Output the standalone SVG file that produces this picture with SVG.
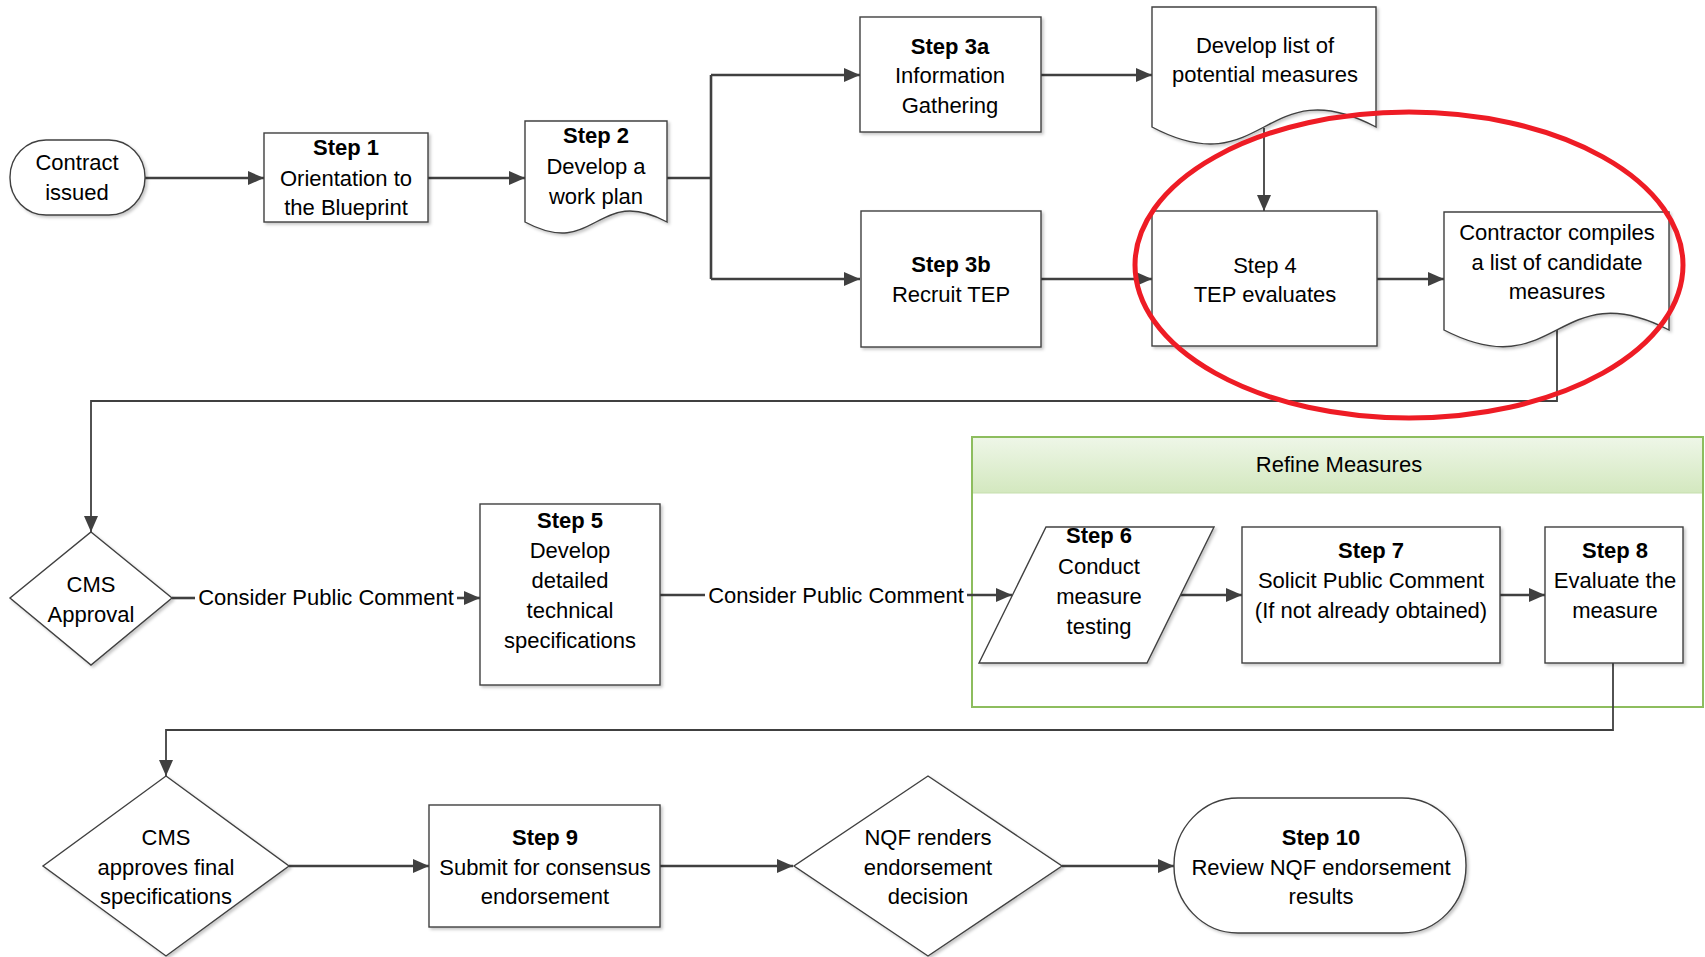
<svg xmlns="http://www.w3.org/2000/svg" width="1705" height="957" viewBox="0 0 1705 957">
<style>
text{font-family:"Liberation Sans",Arial,sans-serif;font-size:22px;fill:#000;text-anchor:middle}
.b{font-weight:bold}
.shape{fill:#fff;stroke:#404040;stroke-width:1.4}
.c{fill:none;stroke:#404040;stroke-width:2.6}
.t{fill:none;stroke:#404040;stroke-width:1.8}
</style>
<defs>
<marker id="arr" viewBox="0 0 16 14" refX="16" refY="7" markerWidth="16" markerHeight="14" markerUnits="userSpaceOnUse" orient="auto"><path d="M0,0 L16,7 L0,14 z" fill="#404040"/></marker>
<filter id="sh" x="-5%" y="-5%" width="115%" height="115%"><feDropShadow dx="2" dy="2" stdDeviation="1.5" flood-color="#000" flood-opacity="0.22"/></filter>
<linearGradient id="hdr" x1="0" y1="0" x2="0" y2="1"><stop offset="0" stop-color="#EEF6E7"/><stop offset="1" stop-color="#D3E8BF"/></linearGradient>
</defs>
<rect width="1705" height="957" fill="#fff"/>

<g id="refine-measures">
<rect x="972" y="437" width="731" height="270" fill="#fff" stroke="#8DBD5E" stroke-width="2"/>
<rect x="973" y="438" width="729" height="55" fill="url(#hdr)"/>
<line x1="973" y1="493" x2="1702" y2="493" stroke="#C6DFAE" stroke-width="1"/>
<text x="1339" y="472">Refine Measures</text>
</g>

<g id="connectors">
<path class="c" d="M145,178 H264" marker-end="url(#arr)"/>
<path class="c" d="M428,178 H525" marker-end="url(#arr)"/>
<path class="c" d="M667,178 H711"/>
<path class="c" d="M711,75 V279"/>
<path class="c" d="M711,75 H860" marker-end="url(#arr)"/>
<path class="c" d="M711,279 H860" marker-end="url(#arr)"/>
<path class="c" d="M1041,75 H1152" marker-end="url(#arr)"/>
<path class="t" d="M1264,128 V211" marker-end="url(#arr)"/>
<path class="c" d="M1041,279 H1152" marker-end="url(#arr)"/>
<path class="c" d="M1377,279 H1444" marker-end="url(#arr)"/>
<path class="t" d="M1557,330 V401 H91 V532" marker-end="url(#arr)"/>
<path class="c" d="M172,598 H195"/>
<path class="c" d="M457,598 H480" marker-end="url(#arr)"/>
<text x="326" y="605">Consider Public Comment</text>
<path class="c" d="M660,595 H705"/>
<path class="c" d="M967,595 H1012" marker-end="url(#arr)"/>
<text x="836" y="603">Consider Public Comment</text>
<path class="c" d="M1180,595 H1242" marker-end="url(#arr)"/>
<path class="c" d="M1500,595 H1545" marker-end="url(#arr)"/>
<path class="t" d="M1613,663 V730 H166 V776" marker-end="url(#arr)"/>
<path class="c" d="M289,866 H429" marker-end="url(#arr)"/>
<path class="c" d="M660,866 H793" marker-end="url(#arr)"/>
<path class="c" d="M1062,866 H1174" marker-end="url(#arr)"/>
</g>

<g id="contract-issued">
<rect class="shape" x="10" y="140" width="135" height="75" rx="36" ry="37" filter="url(#sh)"/>
<text x="77" y="170">Contract</text>
<text x="77" y="200">issued</text>
</g>

<g id="step1">
<rect class="shape" x="264" y="133" width="164" height="89" filter="url(#sh)"/>
<text class="b" x="346" y="155">Step 1</text>
<text x="346" y="186">Orientation to</text>
<text x="346" y="215">the Blueprint</text>
</g>

<g id="step2">
<path class="shape" d="M525,121 H667 V222 C596,184 596,260 525,222 Z" filter="url(#sh)"/>
<text class="b" x="596" y="143">Step 2</text>
<text x="596" y="174">Develop a</text>
<text x="596" y="204">work plan</text>
</g>

<g id="step3a">
<rect class="shape" x="860" y="17" width="181" height="115" filter="url(#sh)"/>
<text class="b" x="950" y="54">Step 3a</text>
<text x="950" y="83">Information</text>
<text x="950" y="113">Gathering</text>
</g>

<g id="potential-measures">
<path class="shape" d="M1152,7 H1376 V127 C1264,68 1264,186 1152,127 Z" filter="url(#sh)"/>
<text x="1265" y="53">Develop list of</text>
<text x="1265" y="82">potential measures</text>
</g>

<g id="step3b">
<rect class="shape" x="861" y="211" width="180" height="136" filter="url(#sh)"/>
<text class="b" x="951" y="272">Step 3b</text>
<text x="951" y="302">Recruit TEP</text>
</g>

<g id="step4">
<rect class="shape" x="1152" y="211" width="225" height="135" filter="url(#sh)"/>
<text x="1265" y="273">Step 4</text>
<text x="1265" y="302">TEP evaluates</text>
</g>

<g id="candidate-measures">
<path class="shape" d="M1444,212 H1669 V330 C1557,272 1557,388 1444,330 Z" filter="url(#sh)"/>
<text x="1557" y="240">Contractor compiles</text>
<text x="1557" y="270">a list of candidate</text>
<text x="1557" y="299">measures</text>
</g>

<g id="cms-approval">
<path class="shape" d="M91,532 L172,598 L91,665 L10,598 Z" filter="url(#sh)"/>
<text x="91" y="592">CMS</text>
<text x="91" y="622">Approval</text>
</g>

<g id="step5">
<rect class="shape" x="480" y="504" width="180" height="181" filter="url(#sh)"/>
<text class="b" x="570" y="528">Step 5</text>
<text x="570" y="558">Develop</text>
<text x="570" y="588">detailed</text>
<text x="570" y="618">technical</text>
<text x="570" y="648">specifications</text>
</g>

<g id="step6">
<path class="shape" d="M1046,527 H1214 L1147,663 H979 Z" filter="url(#sh)"/>
<text class="b" x="1099" y="543">Step 6</text>
<text x="1099" y="574">Conduct</text>
<text x="1099" y="604">measure</text>
<text x="1099" y="634">testing</text>
</g>

<g id="step7">
<rect class="shape" x="1242" y="527" width="258" height="136" filter="url(#sh)"/>
<text class="b" x="1371" y="558">Step 7</text>
<text x="1371" y="588">Solicit Public Comment</text>
<text x="1371" y="618">(If not already obtained)</text>
</g>

<g id="step8">
<rect class="shape" x="1545" y="527" width="138" height="136" filter="url(#sh)"/>
<text class="b" x="1615" y="558">Step 8</text>
<text x="1615" y="588">Evaluate the</text>
<text x="1615" y="618">measure</text>
</g>

<g id="cms-approves">
<path class="shape" d="M166,776 L289,866 L166,956 L43,866 Z" filter="url(#sh)"/>
<text x="166" y="845">CMS</text>
<text x="166" y="875">approves final</text>
<text x="166" y="904">specifications</text>
</g>

<g id="step9">
<rect class="shape" x="429" y="805" width="231" height="122" filter="url(#sh)"/>
<text class="b" x="545" y="845">Step 9</text>
<text x="545" y="875">Submit for consensus</text>
<text x="545" y="904">endorsement</text>
</g>

<g id="nqf-decision">
<path class="shape" d="M928,776 L1062,866 L928,956 L794,866 Z" filter="url(#sh)"/>
<text x="928" y="845">NQF renders</text>
<text x="928" y="875">endorsement</text>
<text x="928" y="904">decision</text>
</g>

<g id="step10">
<rect class="shape" x="1174" y="798" width="292" height="135" rx="64" ry="67" filter="url(#sh)"/>
<text class="b" x="1321" y="845">Step 10</text>
<text x="1321" y="875">Review NQF endorsement</text>
<text x="1321" y="904">results</text>
</g>

<ellipse cx="1409" cy="265" rx="274" ry="153" fill="none" stroke="#EE1C25" stroke-width="5"/>
</svg>
